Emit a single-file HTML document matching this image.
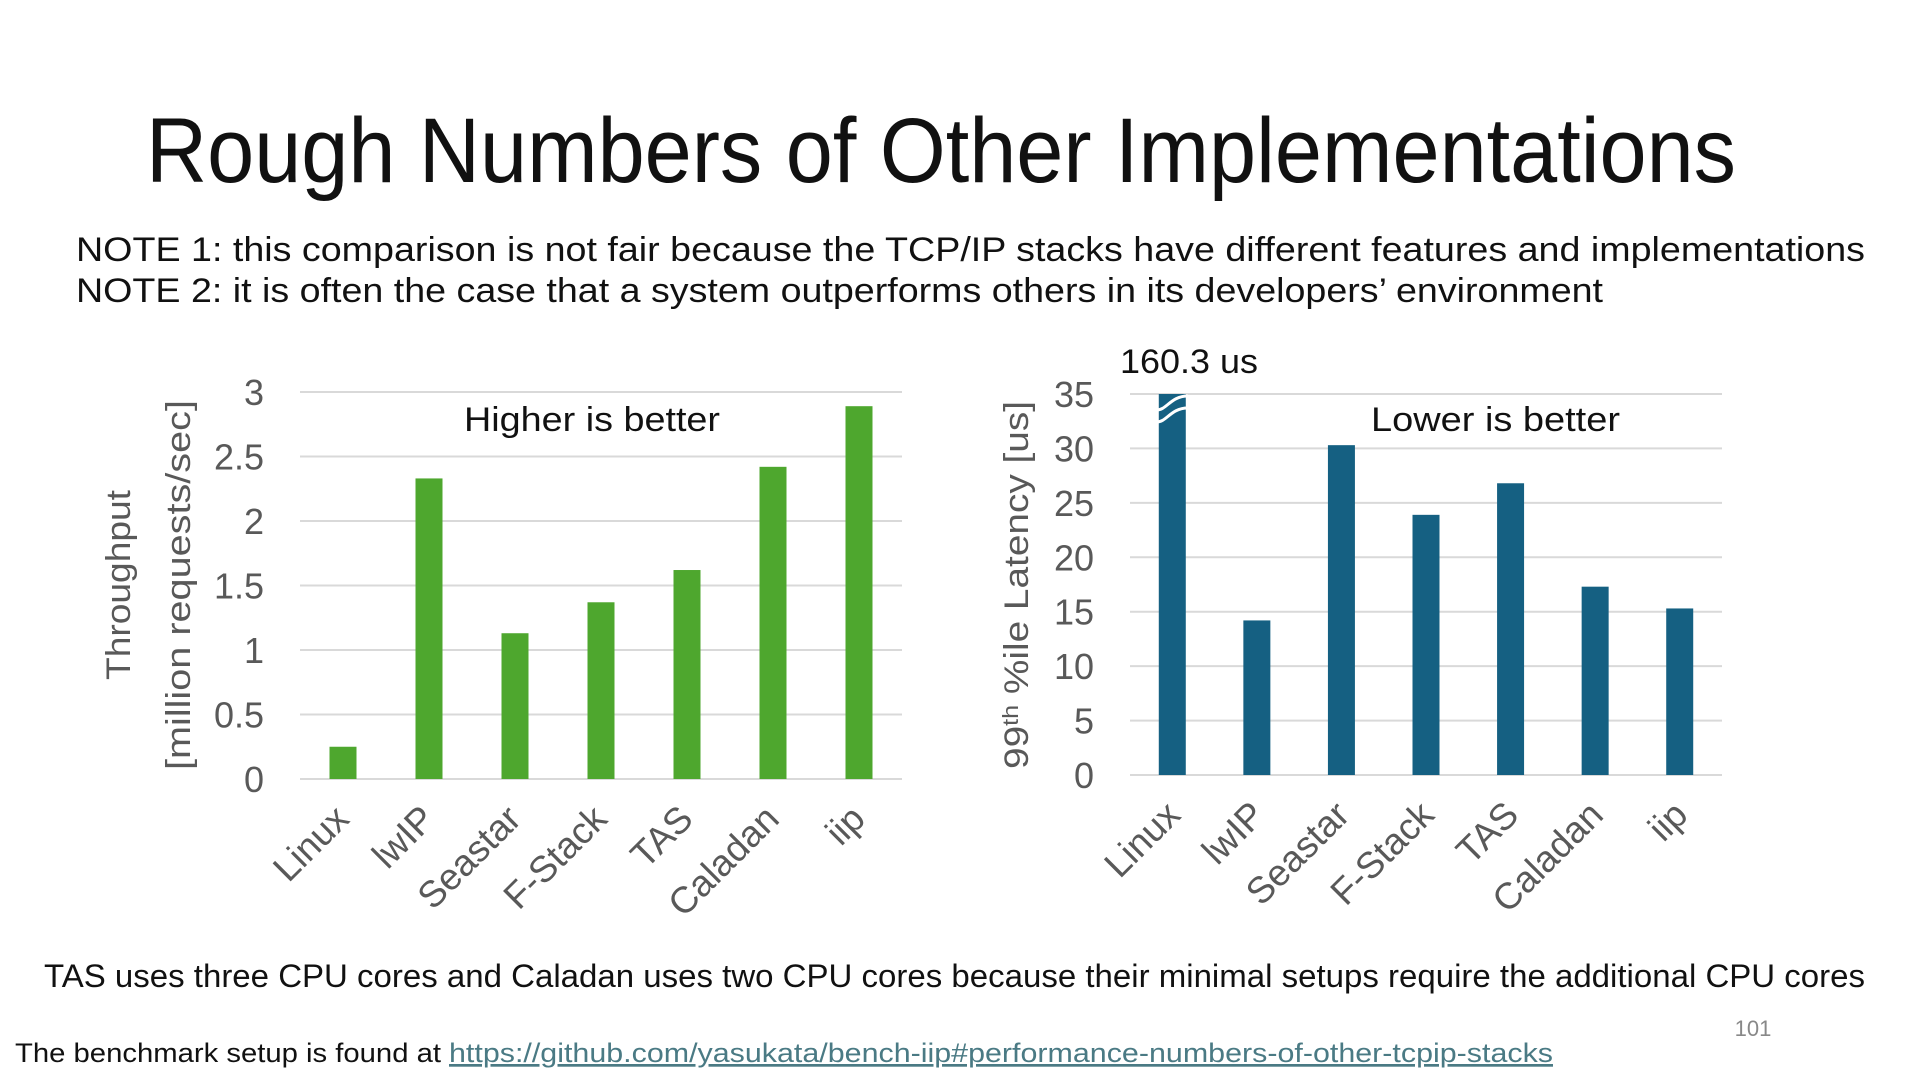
<!DOCTYPE html>
<html><head><meta charset="utf-8"><style>
html,body{margin:0;padding:0;background:#fff;width:1920px;height:1080px;overflow:hidden}
svg{display:block;font-family:"Liberation Sans","Noto Sans CJK JP",sans-serif}
</style></head><body>
<svg id="s" width="1920" height="1080" viewBox="0 0 1920 1080">
<text x="941" y="182" font-size="92" text-anchor="middle" textLength="1590" lengthAdjust="spacingAndGlyphs" fill="#111">Rough Numbers of Other Implementations</text>
<text x="76" y="261" font-size="34" textLength="1789" lengthAdjust="spacingAndGlyphs" fill="#111">NOTE 1: this comparison is not fair because the TCP/IP stacks have different features and implementations</text>
<text x="76" y="302" font-size="34" textLength="1527" lengthAdjust="spacingAndGlyphs" fill="#111">NOTE 2: it is often the case that a system outperforms others in its developers’ environment</text>
<g id="left"></g>
<g id="right"></g>
<text x="464" y="431" font-size="34" textLength="256" lengthAdjust="spacingAndGlyphs" fill="#111">Higher is better</text>
<text x="1371" y="431" font-size="34" textLength="249" lengthAdjust="spacingAndGlyphs" fill="#111">Lower is better</text>
<text x="1120" y="373" font-size="34" textLength="138" lengthAdjust="spacingAndGlyphs" fill="#111">160.3 us</text>
<text transform="translate(130,585) rotate(-90)" font-size="34" text-anchor="middle" fill="#595959" textLength="190" lengthAdjust="spacingAndGlyphs">Throughput</text>
<text transform="translate(190,585) rotate(-90)" font-size="34" text-anchor="middle" fill="#595959" textLength="370" lengthAdjust="spacingAndGlyphs">[million requests/sec]</text>
<text transform="translate(1028,585) rotate(-90)" font-size="34" text-anchor="middle" fill="#595959" textLength="368" lengthAdjust="spacingAndGlyphs">99<tspan font-size="22" dy="-10">th</tspan><tspan dy="10"> %ile Latency [us]</tspan></text>
<text x="44" y="987" font-size="32" textLength="1821" lengthAdjust="spacingAndGlyphs" fill="#111">TAS uses three CPU cores and Caladan uses two CPU cores because their minimal setups require the additional CPU cores</text>
<text x="15" y="1062" font-size="27" fill="#111" textLength="426" lengthAdjust="spacingAndGlyphs">The benchmark setup is found at</text>
<text x="449" y="1062" font-size="27" fill="#4a7a84" text-decoration="underline" textLength="1104" lengthAdjust="spacingAndGlyphs">https://github.com/yasukata/bench-iip#performance-numbers-of-other-tcpip-stacks</text>
<text x="1753" y="1036" font-size="22" fill="#888" text-anchor="middle">101</text>
</svg>
<script>
const categories = ["Linux","lwIP","Seastar","F-Stack","TAS","Caladan","iip"];
const throughputValues = [0.25, 2.33, 1.13, 1.37, 1.62, 2.42, 2.89];
const throughputTicks = ["0","0.5","1","1.5","2","2.5","3"];
const latencyValues = [160.3, 14.2, 30.3, 23.9, 26.8, 17.3, 15.3];
const latencyTicks = ["0","5","10","15","20","25","30","35"];
const NS = "http://www.w3.org/2000/svg";
function mk(tag, attrs, parent){const e=document.createElementNS(NS,tag);for(const k in attrs)e.setAttribute(k,attrs[k]);parent.appendChild(e);return e;}
function chart(g, vals, ticks, maxV, x0, x1, yTop, yBot, color, tickRight, lblOff, name){
  const y = v => yBot - (Math.min(v,maxV)/maxV)*(yBot-yTop);
  const step = (x1-x0)/categories.length;
  const xc = i => x0 + step*(i+0.5);
  ticks.forEach(t=>{
    const v=parseFloat(t);
    const l=mk('line',{x1:x0,x2:x1,y1:y(v),y2:y(v),stroke:'#d9d9d9','stroke-width':2},g);
    
    
    const tx=mk('text',{x:tickRight,y:y(v)+13,'font-size':36,'text-anchor':'end',fill:'#595959'},g);
    tx.textContent=t;
    
    
  });
  vals.forEach((v,i)=>{
    const r=mk('rect',{x:xc(i)-13.5,y:y(v),width:27,height:yBot-y(v),fill:color},g);
    
    
    if(v>maxV){
      [10,22].forEach(d=>{
        const yy=y(maxV)+d, bx=xc(i)-13.5;
        const p=mk('path',{d:`M${bx-2} ${yy+6} C${bx+8} ${yy+6} ${bx+12} ${yy-8} ${bx+29} ${yy-8}`,stroke:'#fff','stroke-width':3,fill:'none'},g);
        
        
      });
    }
    const lx=xc(i)+lblOff, ly=yBot+42;
    const t=mk('text',{transform:`translate(${lx},${ly}) rotate(-45)`,'font-size':37,'text-anchor':'end',fill:'#595959'},g);
    t.textContent=categories[i];
    
    
  });
}
chart(document.getElementById('left'), throughputValues, throughputTicks, 3, 300, 902, 392, 779, '#4ea72e', 264, 8, 'throughput');
chart(document.getElementById('right'), latencyValues, latencyTicks, 35, 1130, 1722, 394, 775, '#156082', 1094, 10, 'latency');
</script>
</body></html>
